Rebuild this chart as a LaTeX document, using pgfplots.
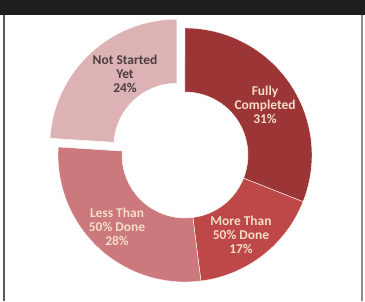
\documentclass[border=0pt]{standalone}
\usepackage{pgfplots}
\pgfplotsset{compat=1.18}
\usepackage{pgfplotstable}
\usepackage{fontspec}
\setmainfont{Carlito}

\pgfplotstableread{
label value
FullyCompleted 31
MoreThanHalfDone 17
LessThanHalfDone 28
NotStartedYet 24
}\donutdata

\definecolor{cA}{HTML}{9C3636}
\definecolor{cB}{HTML}{BE4747}
\definecolor{cC}{HTML}{CB797C}
\definecolor{cD}{HTML}{DDB2B5}
\definecolor{lblLight}{HTML}{F3DDC8}
\definecolor{lblDark}{HTML}{4A3E3E}
\definecolor{frame}{HTML}{1E1E1E}

\begin{document}
\begin{tikzpicture}
\def\cx{185}\def\cy{146}\def\Ro{127}\def\Ri{63}
\pgfplotstablegetelem{0}{value}\of\donutdata\pgfmathsetmacro{\vA}{\pgfplotsretval}
\pgfplotstablegetelem{1}{value}\of\donutdata\pgfmathsetmacro{\vB}{\pgfplotsretval}
\pgfplotstablegetelem{2}{value}\of\donutdata\pgfmathsetmacro{\vC}{\pgfplotsretval}
\pgfplotstablegetelem{3}{value}\of\donutdata\pgfmathsetmacro{\vD}{\pgfplotsretval}
\pgfmathsetmacro{\aA}{90}
\pgfmathsetmacro{\aB}{\aA-3.6*\vA}
\pgfmathsetmacro{\aC}{\aB-3.6*\vB}
\pgfmathsetmacro{\aD}{\aC-3.6*\vC}
\pgfmathsetmacro{\aE}{\aD-3.6*\vD}
\pgfmathsetmacro{\mD}{(\aD+\aE)/2}
\pgfmathsetmacro{\exx}{12*cos(\mD)}
\pgfmathsetmacro{\exy}{12*sin(\mD)}
\newcommand{\slice}[5]{%
  \fill[#3, draw=white, line width=0.4bp]
    (axis cs:{\cx+#4+\Ro*cos(#1)},{\cy+#5+\Ro*sin(#1)})
    arc[start angle=#1, end angle=#2, radius=\Ro bp]
    -- (axis cs:{\cx+#4+\Ri*cos(#2)},{\cy+#5+\Ri*sin(#2)})
    arc[start angle=#2, end angle=#1, radius=\Ri bp] -- cycle;}
\begin{axis}[
  hide axis, x=1bp, y=1bp,
  xmin=0, xmax=365, ymin=0, ymax=301,
  at={(0,0)}, anchor=south west, clip=false]
\fill[white] (axis cs:0,0) rectangle (axis cs:365,301);
\slice{\aA}{\aB}{cA}{0}{0}
\slice{\aB}{\aC}{cB}{0}{0}
\slice{\aC}{\aD}{cC}{0}{0}
\slice{\aD}{\aE}{cD}{\exx}{\exy}
\fill[frame] (axis cs:0,286) rectangle (axis cs:365,301);
\draw[black!65, line width=1.6bp] (axis cs:4,0) -- (axis cs:4,286);
\draw[black!45, line width=1.6bp] (axis cs:362,0) -- (axis cs:362,286);
\begin{scope}[every node/.style={align=center, font=\bfseries\fontsize{13.5}{13.8}\selectfont}]
\node[text=lblLight] at (axis cs:265,196) {Fully\\Completed\\31\%};
\node[text=lblLight] at (axis cs:241,66) {More Than\\50\% Done\\17\%};
\node[text=lblLight] at (axis cs:117,74) {Less Than\\50\% Done\\28\%};
\node[text=lblDark] at (axis cs:125,227) {Not Started\\Yet\\24\%};
\end{scope}
\end{axis}
\end{tikzpicture}
\end{document}
